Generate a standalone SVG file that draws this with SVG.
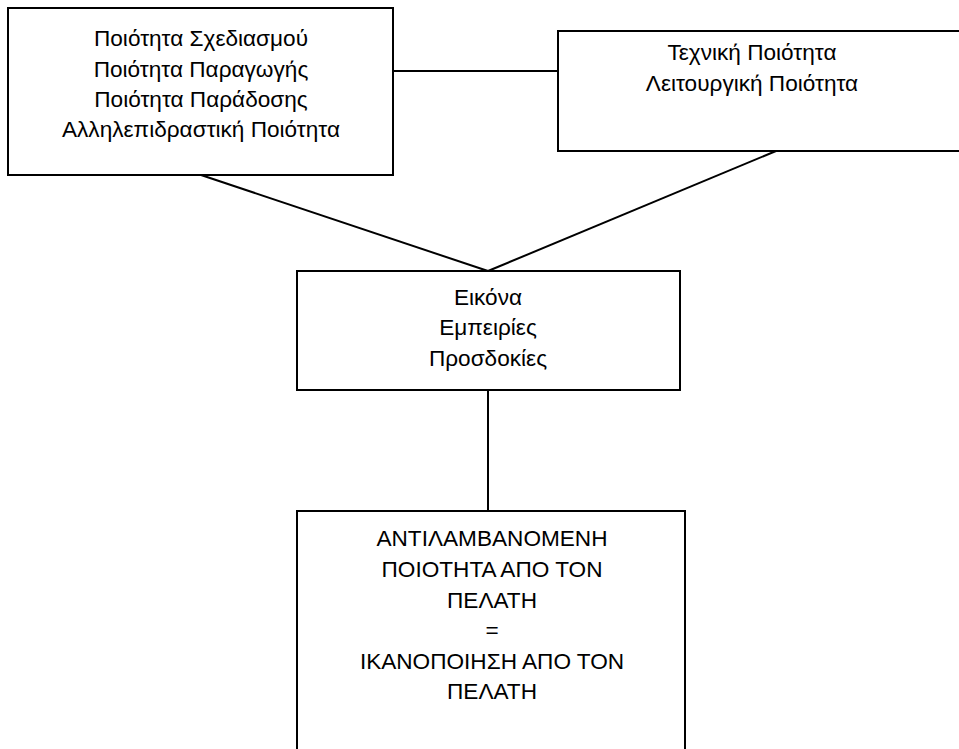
<svg xmlns="http://www.w3.org/2000/svg" width="959" height="749" viewBox="0 0 959 749">
<style>
.box{fill:#fff;stroke:#000;stroke-width:2}
.ln{stroke:#000;stroke-width:2;fill:none}
text{font-family:"Liberation Sans",Arial,sans-serif;font-size:22.6px;fill:#000;text-anchor:middle}
</style>
<rect width="959" height="749" fill="#fff"/>
<g id="connectors">
<line class="ln" x1="393" y1="71" x2="558" y2="71"/>
<line class="ln" x1="201" y1="175" x2="488" y2="271"/>
<line class="ln" x1="776" y1="151" x2="488" y2="271"/>
<line class="ln" x1="488" y1="390" x2="488" y2="511"/>
</g>
<g id="node1">
<rect class="box" x="8" y="8" width="385" height="167"/>
<text x="201" y="46">Ποιότητα Σχεδιασμού</text>
<text x="201" y="77">Ποιότητα Παραγωγής</text>
<text x="201" y="107">Ποιότητα Παράδοσης</text>
<text x="201" y="137">Αλληλεπιδραστική Ποιότητα</text>
</g>
<g id="node2">
<rect class="box" x="558" y="31" width="420" height="120"/>
<text x="752" y="60">Τεχνική Ποιότητα</text>
<text x="752" y="91">Λειτουργική Ποιότητα</text>
</g>
<g id="node3">
<rect class="box" x="297" y="271" width="383" height="119"/>
<text x="488" y="305">Εικόνα</text>
<text x="488" y="335">Εμπειρίες</text>
<text x="488" y="366">Προσδοκίες</text>
</g>
<g id="node4">
<rect class="box" x="297" y="511" width="388" height="260"/>
<text x="492" y="546">ΑΝΤΙΛΑΜΒΑΝΟΜΕΝΗ</text>
<text x="492" y="577">ΠΟΙΟΤΗΤΑ ΑΠΟ ΤΟΝ</text>
<text x="492" y="608">ΠΕΛΑΤΗ</text>
<text x="492" y="638">=</text>
<text x="492" y="669">ΙΚΑΝΟΠΟΙΗΣΗ ΑΠΟ ΤΟΝ</text>
<text x="492" y="699">ΠΕΛΑΤΗ</text>
</g>
</svg>
